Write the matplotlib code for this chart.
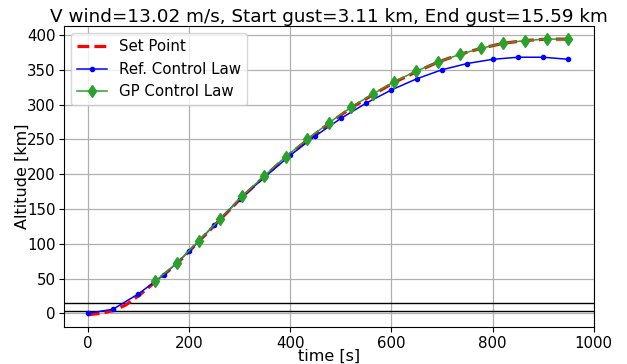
import matplotlib
matplotlib.use("Agg")
import matplotlib.pyplot as plt

# Set point trajectory
sp_t = [0, 25, 50, 75, 100, 133, 176, 219, 262, 305, 348, 391, 434, 477, 520,
        563, 606, 649, 692, 735, 778, 821, 864, 907, 950]
sp_alt = [-2, 0, 4, 12, 25, 45, 71, 103, 135, 167, 196, 224, 249, 273, 295,
          314, 332, 347, 361, 372, 381, 388, 392, 394, 394]

# Reference control law
ref_t = [0, 50, 100, 150, 200, 250, 300, 350, 400, 450, 500, 550, 600, 650,
         700, 750, 800, 850, 900, 950]
ref_alt = [0, 6, 28, 55, 89, 127, 164, 196, 227, 255, 280, 302, 321, 337,
           350, 359, 365, 368, 368, 365]

# GP control law
gp_t = [133, 176, 219, 262, 305, 348, 391, 434, 477, 520, 563, 606, 649, 692,
        735, 778, 821, 864, 907, 950]
gp_alt = [46, 72, 104, 136, 168, 197, 225, 250, 274, 296, 315, 333, 348, 361,
          372, 381, 388, 392, 394, 394]

gust_start = 3.11
gust_end = 15.59
v_wind = 13.02

fig = plt.figure(figsize=(6.27, 3.64), dpi=100)
ax = fig.add_axes([0.102, 0.1008, 0.845, 0.828])

ax.plot(sp_t, sp_alt, 'r--', lw=2.3, label='Set Point', zorder=3)
ax.plot(ref_t, ref_alt, 'b.-', lw=1.1, ms=6, label='Ref. Control Law', zorder=4)
ax.plot(gp_t, gp_alt, color='#2ca02c', marker='d', lw=1.1, ms=6.5, label='GP Control Law', zorder=5)
ax.axhline(gust_start, color='k', lw=1)
ax.axhline(gust_end, color='k', lw=1)

ax.set_xlim(-47, 1000)
ax.set_ylim(-20, 413)
ax.grid(True, color='#b0b0b0', lw=0.9)
ax.set_axisbelow(True)
ax.tick_params(labelsize=10.8, pad=2.5)
ax.set_xlabel('time [s]', fontsize=11.5, labelpad=-1.5)
ax.set_ylabel('Altitude [km]', fontsize=11.5, labelpad=-2)
ax.set_title(f'V wind={v_wind} m/s, Start gust={gust_start} km, End gust={gust_end} km',
             fontsize=13.2, pad=3)
ax.legend(loc='upper left', fontsize=10.8, borderaxespad=0.5)

fig.savefig('out.png', dpi=100)
